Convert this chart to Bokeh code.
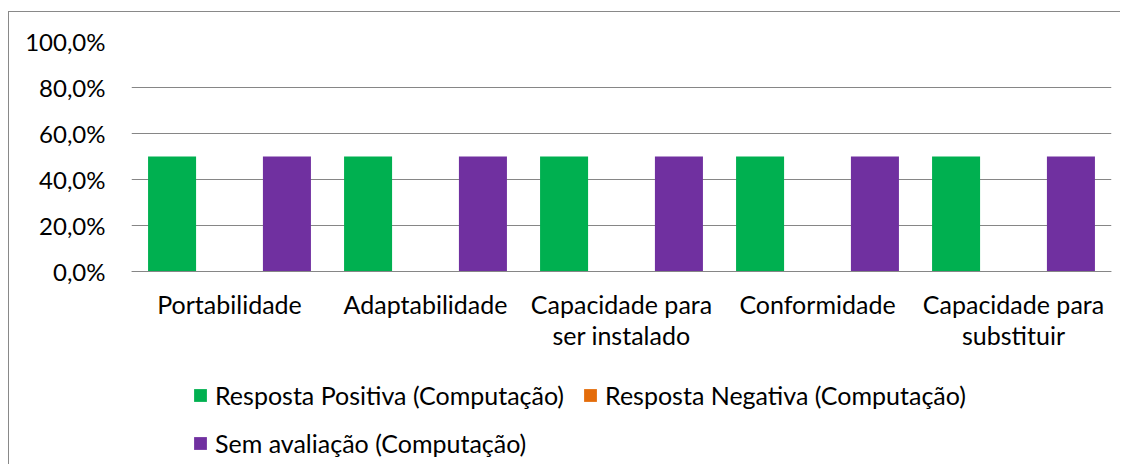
from bokeh.plotting import figure
from bokeh.models import (FixedTicker, Legend, LegendItem, FactorRange, ColumnDataSource,
                          CategoricalAxis, CustomJSTickFormatter)
from bokeh.transform import dodge
from bokeh.embed import file_html
from bokeh.resources import INLINE

categories = ["Portabilidade", "Adaptabilidade", "Capacidade para ser instalado",
              "Conformidade", "Capacidade para substituir"]
label_line1 = ["Portabilidade", "Adaptabilidade", "Capacidade para",
               "Conformidade", "Capacidade para"]
label_line2 = ["", "", "ser instalado", "", "substituir"]
series_names = ["Resposta Positiva (Computação)", "Resposta Negativa (Computação)",
                "Sem avaliação (Computação)"]
positiva = [50, 50, 50, 50, 50]
negativa = [0, 0, 0, 0, 0]
sem_avaliacao = [50, 50, 50, 50, 50]
y_ticks = [0, 20, 40, 60, 80, 100]
y_tick_labels = ["0,0%", "20,0%", "40,0%", "60,0%", "80,0%", "100,0%"]

colors = ["#00B050", "#E46C0A", "#7030A0"]
GRAY = "#868686"

source = ColumnDataSource(dict(cat=categories, pos=positiva, neg=negativa, sem=sem_avaliacao))

# frame extends below the 0 line so that category labels and legend sit inside it
p = figure(x_range=FactorRange(*categories), y_range=(-84.35, 100),
           width=1112, height=453, output_backend="svg", toolbar_location=None,
           min_border_left=122, min_border_right=10, min_border_top=29, min_border_bottom=0,
           styles={"margin-top": "11px", "margin-left": "8px",
                   "border-left": "1px solid #898989",
                   "border-top": "1px solid #898989"})

offset = 0.293
bw = 0.245
r1 = p.vbar(x=dodge("cat", -offset, range=p.x_range), top="pos", width=bw, source=source,
            fill_color=colors[0], line_color=None)
r2 = p.vbar(x=dodge("cat", 0, range=p.x_range), top="neg", width=bw, source=source,
            fill_color=colors[1], line_color=None)
r3 = p.vbar(x=dodge("cat", offset, range=p.x_range), top="sem", width=bw, source=source,
            fill_color=colors[2], line_color=None)

p.outline_line_color = None
p.xgrid.grid_line_color = None
p.ygrid.ticker = FixedTicker(ticks=y_ticks)
p.ygrid.grid_line_color = GRAY
p.ygrid.grid_line_width = 1

p.yaxis.ticker = FixedTicker(ticks=y_ticks)
p.yaxis.major_label_overrides = dict(zip(y_ticks, y_tick_labels))
p.yaxis.axis_line_color = None
p.yaxis.major_tick_line_color = None
p.yaxis.minor_tick_line_color = None
p.yaxis.major_label_standoff = 20
p.yaxis.major_label_text_font = "Lato"
p.yaxis.major_label_text_font_size = "24px"
p.yaxis.major_label_text_color = "black"

fmt_code = "const i = cats.indexOf(tick); return i >= 0 ? labels[i] : '';"

xa = p.xaxis[0]
xa.fixed_location = 0
xa.formatter = CustomJSTickFormatter(args=dict(cats=categories, labels=label_line1), code=fmt_code)
xa.axis_line_color = GRAY
xa.major_tick_line_color = None
xa.minor_tick_line_color = None
xa.major_label_standoff = 12
xa.major_label_text_font = "Lato"
xa.major_label_text_font_size = "25px"
xa.major_label_text_color = "black"

xa2 = CategoricalAxis(formatter=CustomJSTickFormatter(args=dict(cats=categories, labels=label_line2),
                                                      code=fmt_code),
                      fixed_location=0,
                      axis_line_color=None, major_tick_line_color=None,
                      minor_tick_line_color=None, major_label_standoff=43,
                      major_label_text_font="Lato", major_label_text_font_size="25px",
                      major_label_text_color="black")
p.add_layout(xa2, "below")

legend = Legend(items=[LegendItem(label=series_names[0], renderers=[r1]),
                       LegendItem(label=series_names[1], renderers=[r2]),
                       LegendItem(label=series_names[2], renderers=[r3])],
                location=(61, 7), orientation="horizontal", ncols=2,
                background_fill_alpha=0, border_line_color=None,
                padding=0, margin=0, glyph_width=16, glyph_height=16,
                label_standoff=7, spacing=18, label_height=30,
                label_text_font="Lato",
                label_text_font_size="25px", label_text_color="black")
p.add_layout(legend, "center")

open("out.html", "w").write(file_html(p, INLINE))
